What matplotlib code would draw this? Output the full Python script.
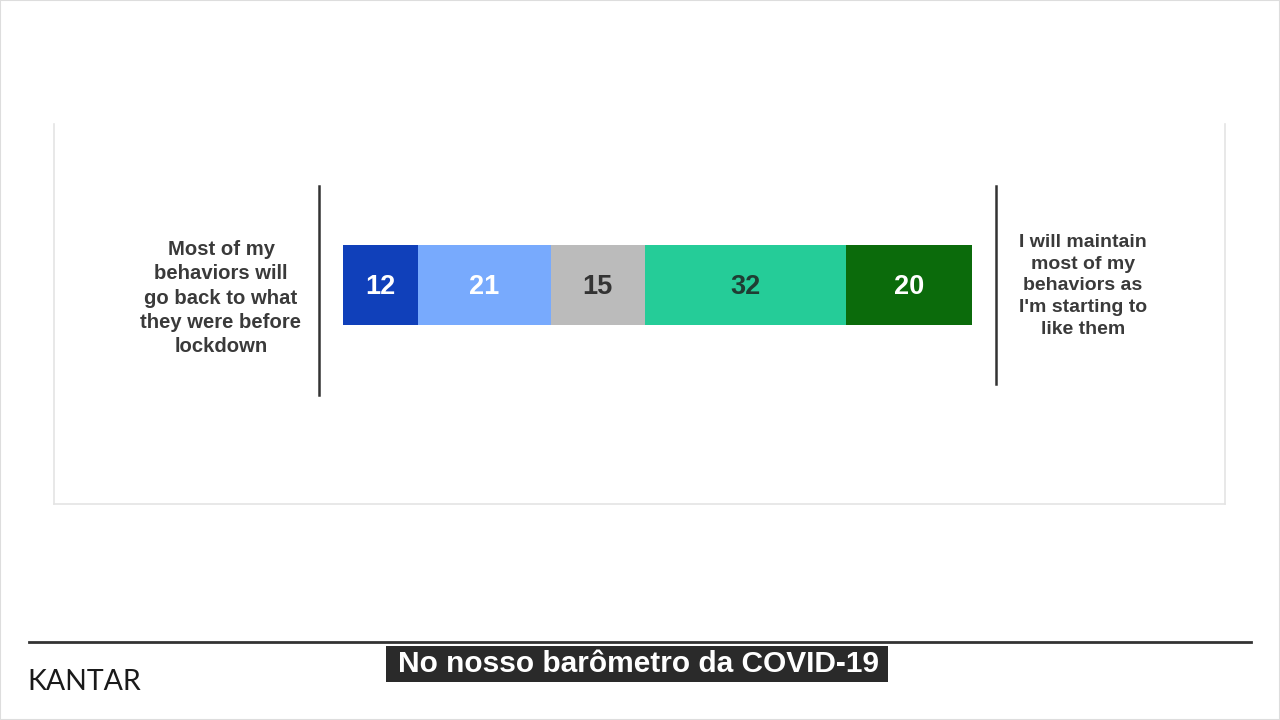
import matplotlib.pyplot as plt
from matplotlib.lines import Line2D
from matplotlib.patches import Rectangle

values = [12, 21, 15, 32, 20]
colors = ['#1040BA', '#78AAFD', '#BBBBBB', '#25CC98', '#0B6B0B']
label_colors = ['white', 'white', '#333333', '#1f3d33', 'white']
left_text = 'Most of my\nbehaviors will\ngo back to what\nthey were before\nlockdown'
right_text = "I will maintain\nmost of my\nbehaviors as\nI'm starting to\nlike them"
caption = 'No nosso barômetro da COVID-19'
brand = 'KANTAR'

W, H = 1280, 720
fig = plt.figure(figsize=(12.8, 7.2), dpi=100)
fig.patch.set_facecolor('white')

def fx(px):
    return px / W

def fy(py):
    return 1 - py / H

# panel border (no top edge)
for xs, ys in [([54, 54], [124, 504]), ([1225, 1225], [124, 504]), ([54, 1225], [504, 504])]:
    fig.add_artist(Line2D([fx(x) for x in xs], [fy(y) for y in ys],
                          color='#e4e4e4', lw=1.2))

# stacked bar
ax = fig.add_axes([fx(343), fy(325), fx(972) - fx(343), (325 - 245) / H])
left = 0
for v, c, tc in zip(values, colors, label_colors):
    ax.barh(0, v, left=left, height=1, color=c, edgecolor='none')
    ax.text(left + v / 2, -0.02, str(v), ha='center', va='center',
            color=tc, fontsize=19.5, fontweight='bold', family='Liberation Sans')
    left += v
ax.set_xlim(0, sum(values))
ax.set_ylim(-0.5, 0.5)
ax.axis('off')

# vertical separators
fig.add_artist(Line2D([fx(319), fx(319)], [fy(186), fy(395)], color='#333333', lw=1.8))
fig.add_artist(Line2D([fx(996), fx(996)], [fy(186), fy(384)], color='#333333', lw=1.8))

# side labels
fig.text(fx(221), fy(298), left_text, ha='center', va='center', fontsize=14.6,
         fontweight='bold', color='#3a3a3a', family='Liberation Sans', linespacing=1.34)
fig.text(fx(1083), fy(286), right_text, ha='center', va='center', fontsize=14.0,
         fontweight='bold', color='#3a3a3a', family='Liberation Sans', linespacing=1.38)

# footer
fig.add_artist(Line2D([fx(29), fx(1251)], [fy(642), fy(642)], color='#333333', lw=2))
fig.text(fx(27), fy(682), brand, ha='left', va='center', fontsize=20.5,
         color='#1a1a1a', family='Lato')
fig.add_artist(Rectangle((fx(386), fy(682)), fx(888) - fx(386), (682 - 646) / H,
                         facecolor='#2a2a2a', edgecolor='none'))
fig.text(fx(638), fy(664), caption, ha='center', va='center', fontsize=21.5,
         fontweight='bold', color='white', family='Liberation Sans')

# faint outer frame
fig.add_artist(Rectangle((0, 0), 1, 1, facecolor='none', edgecolor='#dddddd', lw=1.5))

fig.savefig('out.png', dpi=100)
